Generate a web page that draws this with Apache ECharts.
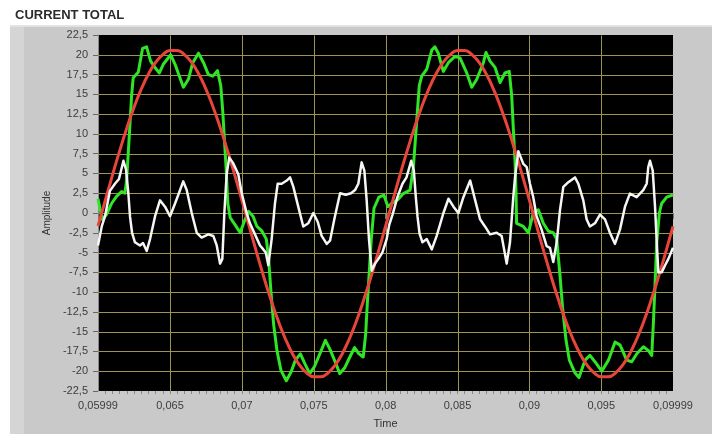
<!DOCTYPE html>
<html><head><meta charset="utf-8">
<script src="https://cdn.jsdelivr.net/npm/echarts@6/dist/echarts.min.js"></script>
<style>html,body{margin:0;padding:0;background:#fff;}#c{width:712px;height:434px;}</style>
</head><body><div id="c"></div>
<script>
const titleText = 'CURRENT TOTAL';
const xName = 'Time';
const yName = 'Amplitude';
const xTickValues = [0.05999, 0.065, 0.07, 0.075, 0.08, 0.085, 0.09, 0.095, 0.09999];
const xTickLabels = ['0,05999', '0,065', '0,07', '0,075', '0,08', '0,085', '0,09', '0,095', '0,09999'];
const yTickValues = [-22.5, -20, -17.5, -15, -12.5, -10, -7.5, -5, -2.5, 0, 2.5, 5, 7.5, 10, 12.5, 15, 17.5, 20, 22.5];
const yTickLabels = ['-22,5', '-20', '-17,5', '-15', '-12,5', '-10', '-7,5', '-5', '-2,5', '0', '2,5', '5', '7,5', '10', '12,5', '15', '17,5', '20', '22,5'];
const xGridValues = [0.065, 0.07, 0.075, 0.08, 0.085, 0.09, 0.095];
const yGridValues = [-20, -17.5, -15, -12.5, -10, -7.5, -5, -2.5, 0, 2.5, 5, 7.5, 10, 12.5, 15, 17.5, 20];

const greenTime = [0.05999,0.06012,0.0603,0.06058,0.06093,0.06128,0.06163,0.06186,0.06198,0.06209,0.06221,0.06233,0.06244,0.06279,0.06309,0.06337,0.06365,0.06395,0.06426,0.06453,0.06505,0.06535,0.06565,0.06593,0.06628,0.06658,0.06698,0.06733,0.06767,0.06798,0.0683,0.06853,0.06867,0.06879,0.06891,0.06902,0.06919,0.06953,0.06988,0.07016,0.07047,0.07077,0.07105,0.0714,0.0717,0.07186,0.07202,0.07221,0.07244,0.07272,0.07309,0.07342,0.07372,0.07407,0.07437,0.07472,0.07505,0.07542,0.07581,0.07612,0.07644,0.07681,0.07714,0.07751,0.07784,0.07814,0.07844,0.07861,0.07872,0.07886,0.079,0.07919,0.07953,0.07988,0.08016,
0.08042,0.08086,0.08123,0.0817,0.08193,0.08216,0.08234,0.08251,0.08286,0.08321,0.08343,0.08366,0.08401,0.08436,0.08482,0.08517,0.08564,0.08599,0.08634,0.0868,0.08698,0.08726,0.08761,0.08796,0.0883,0.0886,0.08877,0.08888,0.089,0.08907,0.08911,0.08958,0.08993,0.09027,0.09062,0.09097,0.09132,0.09166,0.0919,0.09213,0.09231,0.09255,0.09278,0.09317,0.09345,0.09387,0.09421,0.09456,0.09503,0.0955,0.09596,0.09631,0.09677,0.09712,0.09747,0.09793,0.09828,0.09851,0.09862,0.09874,0.09886,0.09904,0.0992,0.09955,0.09999];
const greenAmp = [1.8,0.6,-0.8,-0.2,1.2,2.1,2.7,2.5,4.1,7.4,11.1,14.9,17.1,17.8,20.8,21.0,19.2,18.4,17.7,18.8,20.0,18.8,17.3,15.9,16.9,19.0,20.2,19.0,17.5,17.3,18.0,16.1,12.8,9.1,5.4,1.2,-0.6,-1.5,-2.5,-1.1,0.2,-0.4,-1.7,-2.3,-3.3,-5.8,-9.9,-14.1,-17.4,-19.9,-21.2,-20.1,-18.6,-17.8,-19.0,-20.3,-19.4,-17.8,-16.1,-17.2,-18.6,-20.3,-19.6,-18.2,-17.0,-17.8,-18.2,-15.3,-11.6,-7.5,-3.3,0.6,2.0,2.25,0.8,
1.2,1.7,2.45,2.9,5.8,11.6,16.1,17.3,18.2,20.6,21.0,20.2,17.9,19.0,19.8,19.6,17.7,15.9,16.9,19.0,20.3,19.2,18.4,16.5,17.7,17.9,14.8,10.7,6.6,2.45,-1.3,-1.7,-2.5,0.0,0.4,-1.3,-2.3,-2.5,-3.3,-7.9,-12.0,-16.1,-18.6,-20.2,-20.8,-18.6,-18.0,-18.8,-20.0,-18.6,-16.3,-16.7,-18.6,-18.8,-17.8,-16.9,-17.4,-18.0,-14.1,-9.1,-3.7,0.0,1.2,2.0,2.3];

const whiteTime = [0.05999,0.06025,0.06048,0.06082,0.06117,0.06145,0.06176,0.06194,0.0621,0.06222,0.06236,0.06256,0.06291,0.06312,0.06338,0.06361,0.06396,0.0643,0.06465,0.065,0.06535,0.0657,0.06592,0.06616,0.06651,0.06686,0.0672,0.06766,0.06801,0.06825,0.06848,0.06864,0.06878,0.06894,0.06912,0.06936,0.06952,0.06975,0.06999,0.07033,0.07056,0.07091,0.07126,0.07149,0.07166,0.07184,0.07207,0.0723,0.07249,0.07277,0.07312,0.07335,0.07358,0.07392,0.07427,0.07462,0.07497,0.07527,0.07555,0.0759,0.07613,0.07643,0.07683,0.07722,0.07759,0.07787,0.0781,0.07833,0.07852,0.07868,0.07884,0.07903,0.07926,0.0795,0.07977,0.08007,0.08025,
0.08048,0.08082,0.08117,0.08145,0.08178,0.08196,0.0821,0.08222,0.08236,0.08256,0.08286,0.08321,0.08355,0.08402,0.08437,0.08472,0.08506,0.08541,0.08588,0.08623,0.08657,0.08691,0.08726,0.08772,0.08807,0.08842,0.08865,0.08888,0.089,0.08923,0.08958,0.08981,0.09004,0.09027,0.0905,0.09085,0.0912,0.09143,0.09166,0.0919,0.09213,0.09236,0.09271,0.09317,0.0934,0.09375,0.09398,0.09421,0.09456,0.09491,0.09526,0.0956,0.09595,0.0963,0.09665,0.09699,0.09746,0.09792,0.09816,0.09827,0.09839,0.09858,0.09874,0.09886,0.09897,0.0992,0.09944,0.09967,0.09999];
const whiteAmp = [-4.1,-1.7,-0.4,2.8,3.7,4.3,6.6,5.5,2.5,-0.5,-2.5,-3.7,-4.1,-3.8,-4.8,-3.3,-0.4,1.6,0.8,-0.4,1.2,2.9,4.0,2.9,0.0,-2.5,-3.1,-2.7,-2.9,-4.1,-6.4,-5.8,0.0,4.9,7.0,6.4,5.8,4.9,2.5,0.0,-1.3,-2.7,-4.1,-4.6,-5.0,-6.6,-3.3,1.2,3.7,3.7,4.1,4.5,3.3,0.8,-1.7,-1.3,0.0,-1.1,-2.9,-3.9,-3.5,-0.8,2.5,2.3,2.5,2.9,3.7,6.4,5.35,1.6,-3.3,-7.3,-6.4,-5.8,-5.0,-3.3,-1.5,
-0.2,2.0,3.7,4.5,6.6,5.4,2.0,-0.5,-2.6,-3.7,-3.3,-4.6,-2.9,0.0,1.8,0.8,0.0,2.0,4.1,1.6,-0.8,-1.7,-2.7,-2.5,-2.9,-6.4,-3.7,2.0,4.5,7.8,6.2,5.8,3.7,2.0,-0.4,-2.1,-4.2,-4.4,-6.2,-3.7,0.4,3.3,3.9,4.5,3.7,1.6,-0.8,-1.7,-1.3,-0.2,-0.8,-2.5,-3.9,-2.1,0.8,2.45,2.0,2.9,3.7,5.8,6.6,5.35,0.8,-3.7,-7.5,-7.5,-6.6,-5.8,-4.4];

const redTime = [0.05999,0.0605,0.061,0.0615,0.062,0.0625,0.063,0.0635,0.064,0.0645,0.065,0.0655,0.066,0.0665,0.067,0.0675,0.068,0.0685,0.069,0.0695,0.07,0.0705,0.071,0.0715,0.072,0.0725,0.073,0.0735,0.074,0.0745,0.075,0.0755,0.076,0.0765,0.077,0.0775,0.078,0.0785,0.079,0.0795,0.08,0.0805,0.081,0.0815,0.082,0.0825,0.083,0.0835,0.084,0.0845,0.085,0.0855,0.086,0.0865,0.087,0.0875,0.088,0.0885,0.089,0.0895,0.09,0.0905,0.091,0.0915,0.092,0.0925,0.093,0.0935,0.094,0.0945,0.095,0.0955,0.096,0.0965,0.097,0.0975,0.098,0.0985,0.099,0.0995,0.09999];
const redAmp = [-1.62,1.62,4.81,7.88,10.76,13.38,15.66,17.56,19.03,20.03,20.54,20.54,20.03,19.03,17.56,15.66,13.38,10.76,7.88,4.81,1.62,-1.62,-4.84,-7.95,-10.85,-13.5,-15.8,-17.72,-19.2,-20.2,-20.7,-20.7,-20.2,-19.2,-17.72,-15.8,-13.5,-10.85,-7.95,-4.84,-1.62,1.62,4.81,7.88,10.76,13.38,15.66,17.56,19.03,20.03,20.54,20.54,20.03,19.03,17.56,15.66,13.38,10.76,7.88,4.81,1.62,-1.62,-4.84,-7.95,-10.85,-13.5,-15.8,-17.72,-19.2,-20.2,-20.7,-20.7,-20.2,-19.2,-17.72,-15.8,-13.5,-10.85,-7.95,-4.84,-1.68];

function zip(a, b) { return a.map((t, i) => [t, b[i]]); }
function lookup(vals, labels, v) {
  for (let i = 0; i < vals.length; i++) if (Math.abs(vals[i] - v) < 1e-7) return labels[i];
  return '';
}
const xMin = xTickValues[0], xMax = xTickValues[xTickValues.length - 1];
const yMin = yTickValues[0], yMax = yTickValues[yTickValues.length - 1];
const minorTicks = [];
for (let k = 121; k <= 199; k++) minorTicks.push(k * 0.0005);

const FONT = 'Liberation Sans, Arial, sans-serif';
const gridColor = '#9c9652';

// grid lines: one item per line, [orientation, value]
const gridItems = xGridValues.map(v => [0, v]).concat(yGridValues.map(v => [1, v]));

const chart = echarts.init(document.getElementById('c'), null, { renderer: 'canvas' });
chart.setOption({
  animation: false,
  backgroundColor: '#ffffff',
  graphic: [
    { type: 'rect', z: -10, shape: { x: 10, y: 25, width: 702, height: 409 }, style: { fill: '#c9c9c9' } },
    { type: 'rect', z: -9, shape: { x: 10, y: 25, width: 14, height: 409 }, style: { fill: '#d5d5d5' } },
    { type: 'rect', z: -9, shape: { x: 10, y: 25, width: 702, height: 2 }, style: { fill: '#e2e2e2' } },
    { type: 'text', left: 15, top: 9, style: { text: titleText, font: 'bold 13px ' + FONT, fill: '#2b2b2b' } }
  ],
  grid: { left: 98, right: 39, top: 35, bottom: 36, show: true, backgroundColor: '#000000', borderWidth: 0 },
  xAxis: [
    {
      type: 'value', min: xMin, max: xMax, position: 'bottom',
      name: xName, nameLocation: 'middle', nameGap: 27,
      nameTextStyle: { fontFamily: FONT, fontSize: 11, color: '#333' },
      axisLine: { show: true, lineStyle: { color: '#8a8a8a', width: 1 } },
      axisTick: { show: true, customValues: xTickValues, length: 6, lineStyle: { color: '#777' } },
      axisLabel: { customValues: xTickValues, margin: 9, fontFamily: FONT, fontSize: 11, color: '#3c3c3c',
        formatter: v => lookup(xTickValues, xTickLabels, v) },
      splitLine: { show: false }
    },
    {
      type: 'value', min: xMin, max: xMax, position: 'bottom',
      axisLine: { show: false },
      axisTick: { show: true, customValues: minorTicks, length: 3, lineStyle: { color: '#888' } },
      axisLabel: { show: false },
      splitLine: { show: false }
    }
  ],
  yAxis: {
    type: 'value', min: yMin, max: yMax, interval: 2.5,
    name: yName, nameLocation: 'middle', nameGap: 40,
    nameTextStyle: { fontFamily: FONT, fontSize: 10, color: '#333' },
    axisLine: { show: true, lineStyle: { color: '#8a8a8a', width: 1 } },
    axisTick: { show: true, length: 5, lineStyle: { color: '#666' } },
    axisLabel: { margin: 10, fontFamily: FONT, fontSize: 11, color: '#3c3c3c',
      formatter: v => lookup(yTickValues, yTickLabels, v) },
    splitLine: { show: false }
  },
  series: [
    {
      type: 'custom', z: 1, silent: true, data: gridItems,
      renderItem: function (params, api) {
        const o = api.value(0), v = api.value(1);
        const p1 = o === 0 ? api.coord([v, yMin]) : api.coord([xMin, v]);
        const p2 = o === 0 ? api.coord([v, yMax]) : api.coord([xMax, v]);
        const x1 = Math.round(p1[0]) + 0.5, y1 = Math.round(p1[1]) + 0.5;
        const x2 = Math.round(p2[0]) + 0.5, y2 = Math.round(p2[1]) + 0.5;
        return { type: 'line', shape: o === 0 ? { x1: x1, y1: y1, x2: x1, y2: y2 } : { x1: x1, y1: y1, x2: x2, y2: y1 },
          style: { stroke: gridColor, lineWidth: 1 } };
      },
      encode: { x: 1, y: 1 }
    },
    { name: 'green', type: 'line', z: 2, data: zip(greenTime, greenAmp), showSymbol: false,
      lineStyle: { color: '#2ee626', width: 3, join: 'round' } },
    { name: 'red', type: 'line', z: 3, data: zip(redTime, redAmp), showSymbol: false, smooth: true,
      lineStyle: { color: '#e8453a', width: 3 } },
    { name: 'white', type: 'line', z: 4, data: zip(whiteTime, whiteAmp), showSymbol: false,
      lineStyle: { color: '#f6f6f6', width: 2.5, join: 'round' } }
  ]
});
</script>
</body></html>
